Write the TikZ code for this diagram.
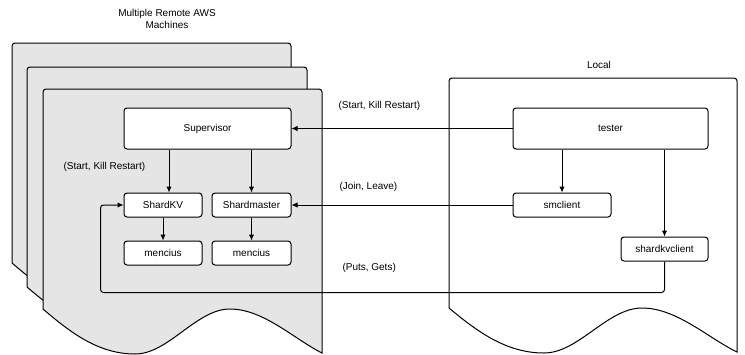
\documentclass[tikz,border=0pt]{standalone}
\usepackage{fontspec}
\setmainfont{Liberation Sans}
\usepackage{tikz}
\usetikzlibrary{calc}
\usetikzlibrary{arrows.meta}
\definecolor{PageGray}{RGB}{229,229,229}
\newcommand{\docpage}[5]{%
  \draw[#5] (#1,#4) [rounded corners=3pt] -- (#1,#2) -- (#3,#2) [sharp corners] -- (#3,{#4+44})
    .. controls ({#3-0.1*(#3-#1)},{#4+30}) and ({#1+0.79*(#3-#1)},{#4}) .. ({#1+0.67*(#3-#1)},{#4})
    .. controls ({#1+0.55*(#3-#1)},{#4}) and ({#1+0.45*(#3-#1)},{#4+45}) .. ({#1+0.33*(#3-#1)},{#4+45})
    .. controls ({#1+0.2*(#3-#1)},{#4+45}) and ({#1+0.1*(#3-#1)},{#4+24}) .. (#1,#4) -- cycle;}

\begin{document}
\begin{tikzpicture}[x=1pt, y=-1pt, line width=1pt, >={Latex[length=6pt,width=5.5pt]},
		every node/.style={font=\fontsize{10}{12}\selectfont}]
			\tikzstyle{proc} = [draw, fill=white, rectangle, rounded corners=3pt, inner sep=0pt]
			\tikzstyle{lbl} = [anchor=west, inner sep=0pt]
			\useasboundingbox (0,0) rectangle (745,354);

			\docpage{12}{43}{291}{263}{fill=PageGray}
			\docpage{27}{67}{307}{287}{fill=PageGray}
			\docpage{43}{89}{322}{309}{fill=PageGray}
			\docpage{449}{78}{737}{308}{fill=white}

			\node[align=center] (remote) at (167,19) {Multiple Remote AWS\\Machines};
			\node (local) at (599,65) {Local};

			\node[proc, minimum width=167pt, minimum height=41pt] (sup) at (207.5,128.5) {Supervisor};
			\node[proc, minimum width=78pt, minimum height=24pt] (skv) at (163,205) {ShardKV};
			\node[proc, minimum width=79pt, minimum height=24pt] (smaster) at (251.5,205) {Shardmaster};
			\node[proc, minimum width=78pt, minimum height=24pt] (menc1) [below of=skv, node distance=48pt] {mencius};
			\node[proc, minimum width=79pt, minimum height=24pt] (menc2) [below of=smaster, node distance=48pt] {mencius};

			\node[proc, minimum width=195pt, minimum height=41pt] (tester) at (610.5,128.5) {tester};
			\node[proc, minimum width=98pt, minimum height=24pt] (smc) at (562,205) {smclient};
			\node[proc, minimum width=87pt, minimum height=24pt] (skvc) at (664.5,249) {shardkvclient};

			\coordinate (skvin) at ([xshift=6pt]skv.north);
			\coordinate (loopx) at ([xshift=-23pt]skv.west);

			\draw[->] (skvin |- sup.south) -- (skvin);
			\draw[->] (smaster.north |- sup.south) -- (smaster.north);
			\draw[->] (skv) -- (menc1);
			\draw[->] (smaster) -- (menc2);

			\draw[->] (smc.north |- tester.south) -- (smc.north);
			\draw[->] (skvc.north |- tester.south) -- (skvc.north);

			\draw[->] (tester) -- (sup);
			\draw[->] (smc) -- (smaster);
			\draw[->, rounded corners=3pt] (skvc.south) -- ++(0,31) -| (loopx) -- (skv.west);

			\node[lbl] (lsup) at (338,106) {(Start, Kill Restart)};
			\node[lbl] (lskv) at (63,167) {(Start, Kill Restart)};
			\node[lbl] (lsm) at (339,187) {(Join, Leave)};
			\node[lbl] (lput) at (342,268) {(Puts, Gets)};
	\end{tikzpicture}
\end{document}
